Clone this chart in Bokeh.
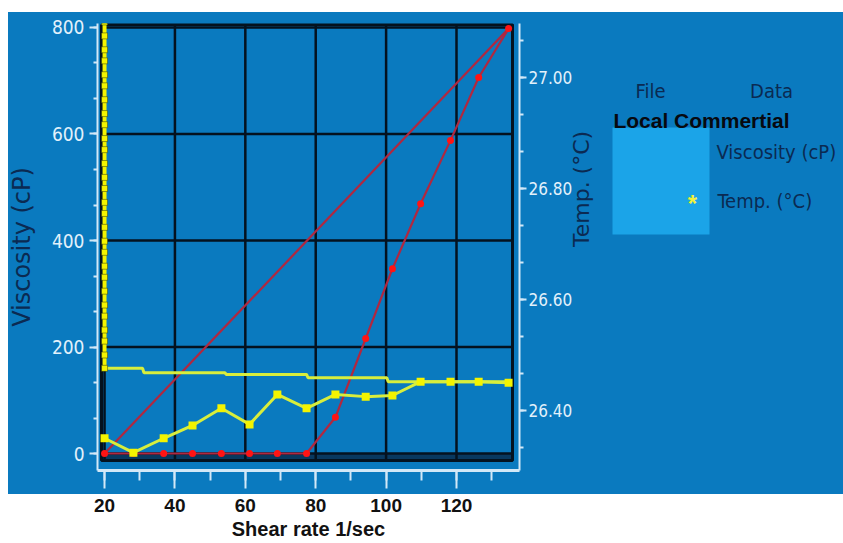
import math
from bokeh.plotting import figure
from bokeh.layouts import row
from bokeh.models import (Range1d, LinearAxis, SingleIntervalTicker, NumeralTickFormatter,
                          Label, BoxAnnotation)
from bokeh.embed import file_html
from bokeh.resources import INLINE

# ---- data ---------------------------------------------------------------
# up ramp of the shear rate (1/sec)
shear_up = [20.0, 28.2, 36.8, 45.0, 53.2, 61.2, 69.1, 77.4, 85.6, 94.2, 101.8, 109.8, 118.3, 126.3, 134.8]
visc_up = [0, 0, 0, 0, 0, 0, 0, 0, 68, 216, 347, 469, 588, 706, 798]
temp_up = [26.350, 26.324, 26.350, 26.373, 26.404, 26.375, 26.429, 26.404,
           26.429, 26.425, 26.427, 26.452, 26.452, 26.452, 26.450]

# down ramp
shear_down_visc = [134.8, 20.0]
visc_down = [798, 0]
shear_down_temp = [134.8, 100.6, 100.2, 77.8, 77.4, 54.6, 54.2, 31.2, 30.8, 20.0]
temp_down = [26.452, 26.452, 26.459, 26.459, 26.465, 26.465, 26.468, 26.468, 26.476, 26.476]

# hold at the lowest shear rate
temp_hold = [26.476, 26.500, 26.525, 26.545, 26.570, 26.590, 26.615, 26.640, 26.660, 26.685,
             26.705, 26.730, 26.755, 26.775, 26.800, 26.820, 26.845, 26.870, 26.890, 26.915,
             26.935, 26.960, 26.985, 27.005, 27.030, 27.050, 27.075, 27.100, 27.120]
shear_hold = [20.0] * len(temp_hold)

x_ticks = [20, 40, 60, 80, 100, 120]
visc_ticks = [0, 200, 400, 600, 800]

legend_header = ["File", "Data"]
legend_file = "Local Commertial"
legend_items = ["Viscosity (cP)", "Temp. (°C)"]

# ---- layout -------------------------------------------------------------
W, H = 843, 543
W_MAIN = 609
FRAME_L, FRAME_R, FRAME_T, FRAME_B = 97, 519, 23, 470
X_LO, X_HI = 18.0, 137.9
Y_LO, Y_HI = -31.9, 807.5
T_LO, T_HI = 26.2919, 27.0973

BLUE = "#0a7abf"
GRID = "#04121f"
AXIS = "#d2e8f7"
NAVY = "#0b2a52"
COND = "DejaVu Sans Condensed"


def xd(px):
    return X_LO + (px - FRAME_L) / (FRAME_R - FRAME_L) * (X_HI - X_LO)


def yd(py):
    return Y_HI - (py - FRAME_T) / (FRAME_B - FRAME_T) * (Y_HI - Y_LO)


BOX_L, BOX_R, BOX_T, BOX_B = xd(101), xd(512), yd(24), yd(460)

bg_main = ("linear-gradient(to right, #ffffff 8px, transparent 8px), "
           "linear-gradient(to bottom, #ffffff 12px, " + BLUE + " 12px, " + BLUE + " 494px, #ffffff 494px)")
bg_side = "linear-gradient(to bottom, #ffffff 12px, " + BLUE + " 12px, " + BLUE + " 494px, #ffffff 494px)"

p = figure(width=W_MAIN, height=H, output_backend="svg", toolbar_location=None,
           x_range=Range1d(X_LO, X_HI), y_range=Range1d(Y_LO, Y_HI),
           min_border_left=FRAME_L, min_border_right=W_MAIN - FRAME_R,
           min_border_top=FRAME_T, min_border_bottom=H - FRAME_B,
           x_axis_label="Shear rate 1/sec", y_axis_label="Viscosity (cP)",
           styles={"background": bg_main})
p.border_fill_color = None
p.background_fill_color = BLUE
p.outline_line_color = None
p.xgrid.visible = False
p.ygrid.visible = False
p.extra_y_ranges = {"temp": Range1d(T_LO, T_HI)}

# dark band below the zero line
p.add_layout(BoxAnnotation(left=BOX_L, right=BOX_R, bottom=BOX_B, top=0,
                           fill_color="#08385f", fill_alpha=1, line_color=None, level="underlay"))

# grid and plot box
p.multi_line(xs=[[g, g] for g in x_ticks], ys=[[BOX_B, BOX_T]] * len(x_ticks),
             line_color=GRID, line_width=2.5)
p.multi_line(xs=[[BOX_L, BOX_R]] * len(visc_ticks), ys=[[g, g] for g in visc_ticks],
             line_color=GRID, line_width=2.5)
p.multi_line(xs=[[BOX_L, BOX_R, BOX_R, BOX_L, BOX_L]], ys=[[BOX_T, BOX_T, BOX_B, BOX_B, BOX_T]],
             line_color=GRID, line_width=3)

# viscosity (left axis)
RED_LINE = "#b02840"
p.line(shear_down_visc, visc_down, line_color=RED_LINE, line_width=2.2)
p.line(shear_up, visc_up, line_color=RED_LINE, line_width=2.2)
p.scatter(shear_up, visc_up, marker="circle", size=7, fill_color="#ff1414", line_color=None)

# temperature (right axis)
YEL_LINE = "#d8ee3c"
YEL = "#f4f400"
p.line(shear_down_temp, temp_down, line_color=YEL_LINE, line_width=3, y_range_name="temp")
p.line(shear_hold, temp_hold, line_color=YEL, line_width=4, y_range_name="temp")
p.scatter(shear_hold, temp_hold, marker="square", size=6, fill_color=YEL,
          line_color="#303a10", line_width=0.5, y_range_name="temp")
p.line(shear_up, temp_up, line_color=YEL_LINE, line_width=3, y_range_name="temp")
p.scatter(shear_up, temp_up, marker="square", size=8, fill_color=YEL, line_color=None,
          y_range_name="temp")

# ---- axes ---------------------------------------------------------------
xa = p.xaxis[0]
xa.ticker = SingleIntervalTicker(interval=20, num_minor_ticks=2)
xa.axis_line_color = AXIS
xa.axis_line_width = 3
xa.major_tick_line_color = AXIS
xa.major_tick_line_width = 2
xa.minor_tick_line_color = AXIS
xa.minor_tick_line_width = 2
xa.major_tick_in = 0
xa.major_tick_out = 18
xa.minor_tick_in = 0
xa.minor_tick_out = 10
xa.major_label_text_font = "Liberation Sans"
xa.major_label_text_font_style = "bold"
xa.major_label_text_font_size = "19px"
xa.major_label_text_color = "#111111"
xa.major_label_standoff = 10
xa.axis_label_text_font = "Liberation Sans"
xa.axis_label_text_font_style = "bold"
xa.axis_label_text_font_size = "20px"
xa.axis_label_text_color = "#111111"
xa.axis_label_standoff = 3

ya = p.yaxis[0]
ya.ticker = SingleIntervalTicker(interval=200, num_minor_ticks=3)
ya.axis_line_color = AXIS
ya.axis_line_width = 2
ya.major_tick_line_color = AXIS
ya.major_tick_line_width = 2
ya.minor_tick_line_color = AXIS
ya.minor_tick_line_width = 2
ya.major_tick_in = 0
ya.major_tick_out = 8
ya.minor_tick_in = 0
ya.minor_tick_out = 4
ya.major_label_text_font = COND
ya.major_label_text_font_size = "19px"
ya.major_label_text_color = "#e2f1fb"
ya.major_label_standoff = 5
ya.axis_label_text_font = "DejaVu Sans"
ya.axis_label_text_font_style = "normal"
ya.axis_label_text_font_size = "24px"
ya.axis_label_text_color = NAVY
ya.axis_label_standoff = 13

ra = LinearAxis(y_range_name="temp", axis_label="Temp. (°C)",
                ticker=SingleIntervalTicker(interval=0.2, num_minor_ticks=3),
                formatter=NumeralTickFormatter(format="0.00"))
ra.axis_line_color = AXIS
ra.axis_line_width = 2
ra.major_tick_line_color = AXIS
ra.major_tick_line_width = 2
ra.minor_tick_line_color = AXIS
ra.minor_tick_line_width = 2
ra.major_tick_in = 0
ra.major_tick_out = 7
ra.minor_tick_in = 0
ra.minor_tick_out = 4
ra.major_label_text_font = COND
ra.major_label_text_font_size = "17px"
ra.major_label_text_color = "#e2f1fb"
ra.major_label_standoff = 2
ra.axis_label_text_font = "DejaVu Sans"
ra.axis_label_text_font_style = "normal"
ra.axis_label_text_font_size = "22px"
ra.axis_label_text_color = NAVY
ra.axis_label_standoff = 6
ra.axis_label_orientation = math.pi / 2
p.add_layout(ra, "right")

# ---- legend block (side panel, coordinates in page pixels) ---------------
# its frame lines up with the main frame, so map the page rows of that frame
leg = figure(width=W - W_MAIN, height=H, output_backend="svg", toolbar_location=None,
             x_range=Range1d(W_MAIN, W), y_range=Range1d(FRAME_B, FRAME_T),
             x_axis_location=None, y_axis_location=None, min_border_left=0,
             min_border_right=0, min_border_top=FRAME_T, min_border_bottom=H - FRAME_B,
             styles={"background": bg_side})
leg.border_fill_color = None
leg.background_fill_color = None
leg.outline_line_color = None
leg.xgrid.visible = False
leg.ygrid.visible = False

leg.add_layout(BoxAnnotation(left=612, right=709, top=127, bottom=234,
                             fill_color="#1ba4e8", fill_alpha=1, line_color=None))


def note(px, py, text, font=COND, size="20px", color=NAVY, style="normal", align="left"):
    leg.add_layout(Label(x=px, y=py, text=text, text_font=font, text_font_size=size,
                         text_color=color, text_font_style=style, text_align=align,
                         text_baseline="middle"))


note(650, 90, legend_header[0], align="center")
note(771, 90, legend_header[1], align="center")
note(701, 120, legend_file, font="Liberation Sans", size="21px",
     color="#07090f", style="bold", align="center")
note(716, 151, legend_items[0], size="20px")
note(717, 200, legend_items[1], size="20px")
note(692, 203, "*", font="Liberation Sans", size="24px", color="#f2f23a", style="bold",
     align="center")

layout = row(p, leg, spacing=0)
open("out.html", "w").write(file_html(layout, INLINE))
